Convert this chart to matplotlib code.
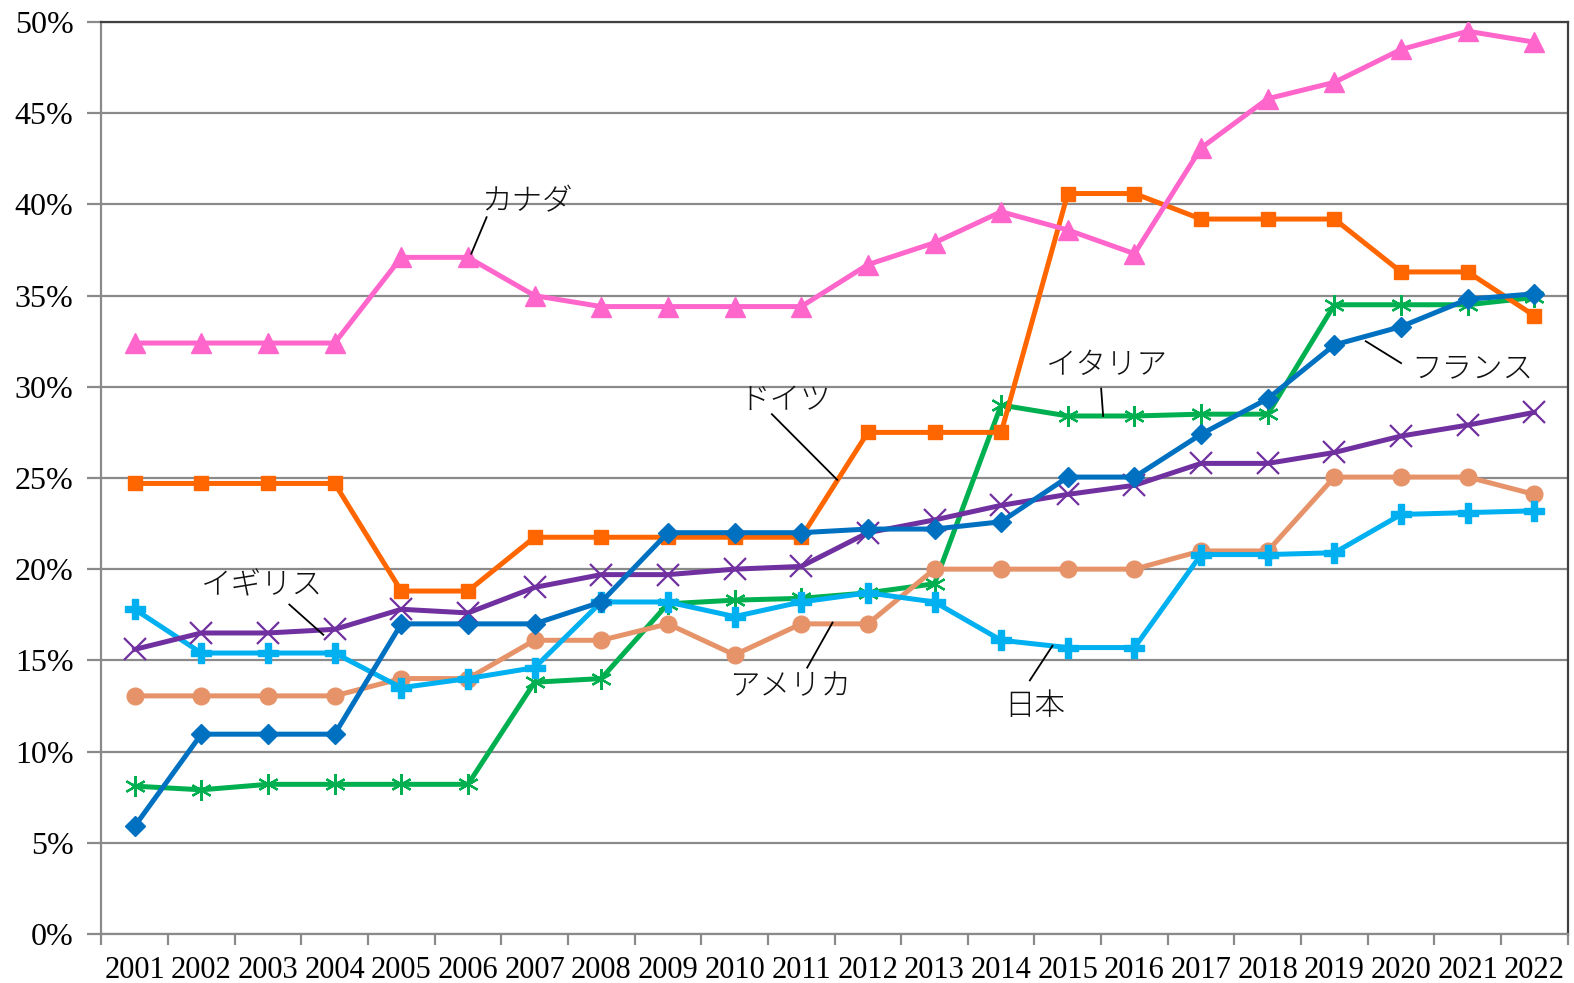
import matplotlib.pyplot as plt
import numpy as np

years = [str(y) for y in range(2001, 2023)]

canada = [32.4, 32.4, 32.4, 32.4, 37.1, 37.1, 35.0, 34.4, 34.4, 34.4, 34.4,
          36.7, 37.9, 39.6, 38.6, 37.3, 43.1, 45.8, 46.7, 48.5, 49.5, 48.9]
germany = [24.7, 24.7, 24.7, 24.7, 18.8, 18.8, 21.75, 21.75, 21.75, 21.75, 21.75,
           27.5, 27.5, 27.5, 40.6, 40.6, 39.2, 39.2, 39.2, 36.3, 36.3, 33.9]
france = [5.9, 10.95, 10.95, 10.95, 17.0, 17.0, 17.0, 18.2, 22.0, 22.0, 22.0,
          22.2, 22.2, 22.6, 25.05, 25.05, 27.4, 29.35, 32.3, 33.3, 34.8, 35.1]
italy = [8.1, 7.9, 8.2, 8.2, 8.2, 8.2, 13.8, 14.0, 18.1, 18.3, 18.4,
         18.7, 19.2, 29.0, 28.4, 28.4, 28.5, 28.5, 34.5, 34.5, 34.5, 34.9]
uk = [15.6, 16.5, 16.5, 16.7, 17.8, 17.6, 19.0, 19.7, 19.7, 20.0, 20.15,
      22.0, 22.7, 23.5, 24.1, 24.6, 25.8, 25.8, 26.4, 27.3, 27.9, 28.6]
usa = [13.05, 13.05, 13.05, 13.05, 14.0, 14.0, 16.1, 16.1, 17.0, 15.3, 17.0,
       17.0, 20.0, 20.0, 20.0, 20.0, 21.0, 21.0, 25.05, 25.05, 25.05, 24.1]
japan = [17.8, 15.4, 15.4, 15.4, 13.5, 14.0, 14.6, 18.2, 18.2, 17.4, 18.2,
         18.7, 18.2, 16.1, 15.7, 15.7, 20.8, 20.8, 20.9, 23.0, 23.1, 23.2]

plt.rcParams['font.family'] = ['Liberation Serif', 'Noto Sans CJK JP']

fig = plt.figure(figsize=(15.74, 9.83), dpi=100)
ax = fig.add_axes([0.0644, 0.05, 0.9316, 0.9275])

x = np.arange(len(years))
lw = 3.6

ax.plot(x, italy, color='#00B050', lw=lw, marker=(6, 2, 0), ms=15, mew=1.6, zorder=3)
ax.plot(x, usa, color='#E6936A', lw=lw, marker='o', ms=12, zorder=3)
ax.plot(x, japan, color='#00B0F0', lw=lw, marker='P', ms=15, zorder=3)
ax.plot(x, uk, color='#7030A0', lw=lw, marker='x', ms=16, mew=1.6, zorder=3)
ax.plot(x, france, color='#0070C0', lw=lw, marker='D', ms=10, zorder=4)
ax.plot(x, germany, color='#FF6600', lw=lw, marker='s', ms=10, zorder=3)
ax.plot(x, canada, color='#FF66CC', lw=lw, marker='^', ms=14, zorder=3)

ax.set_xlim(-0.5, len(years) - 0.5)
ax.set_ylim(0, 50)

ax.set_yticks(np.arange(0, 51, 5))
ax.set_yticklabels([f'{v}%' for v in range(0, 51, 5)], fontsize=23)
ax.yaxis.grid(True, color='#8a8a8a', lw=1.6)
ax.set_axisbelow(True)

ax.set_xticks(np.arange(-0.5, len(years), 1.0))
ax.set_xticklabels([])
ax.set_xticks(x, minor=True)
ax.set_xticklabels(years, minor=True, fontsize=22)
ax.tick_params(axis='x', which='major', length=8, width=1.6, color='#8a8a8a', direction='out')
ax.tick_params(axis='x', which='minor', length=0, pad=16)
ax.tick_params(axis='y', length=10, width=1.6, color='#8a8a8a', pad=10)

for side in ['left', 'bottom']:
    ax.spines[side].set_color('#8a8a8a')
    ax.spines[side].set_linewidth(1.6)
for side in ['top', 'right']:
    ax.spines[side].set_color('#404040')
    ax.spines[side].set_linewidth(1.6)

jp = dict(fontsize=22, family=['Noto Sans CJK JP'], color='#111111', fontweight='light')


def label(txt, tx, ty, x0, y0, x1, y1):
    ax.text(tx, ty, txt, ha='left', va='center', **jp)
    ax.plot([x0, x1], [y0, y1], color='black', lw=1.3, zorder=5)


label('カナダ', 5.2, 40.2, 5.28, 39.3, 5.05, 37.3)
label('ドイツ', 9.07, 29.3, 9.56, 28.5, 10.54, 24.9)
label('イタリア', 13.67, 31.2, 14.5, 29.9, 14.53, 28.4)
label('フランス', 19.16, 31.0, 18.47, 32.5, 19.0, 31.3)
label('イギリス', 0.99, 19.1, 2.32, 18.06, 2.83, 16.4)
label('アメリカ', 8.92, 13.6, 10.09, 14.6, 10.47, 17.07)
label('日本', 13.05, 12.5, 13.43, 13.9, 13.77, 15.8)

fig.savefig('out.png', dpi=100)
